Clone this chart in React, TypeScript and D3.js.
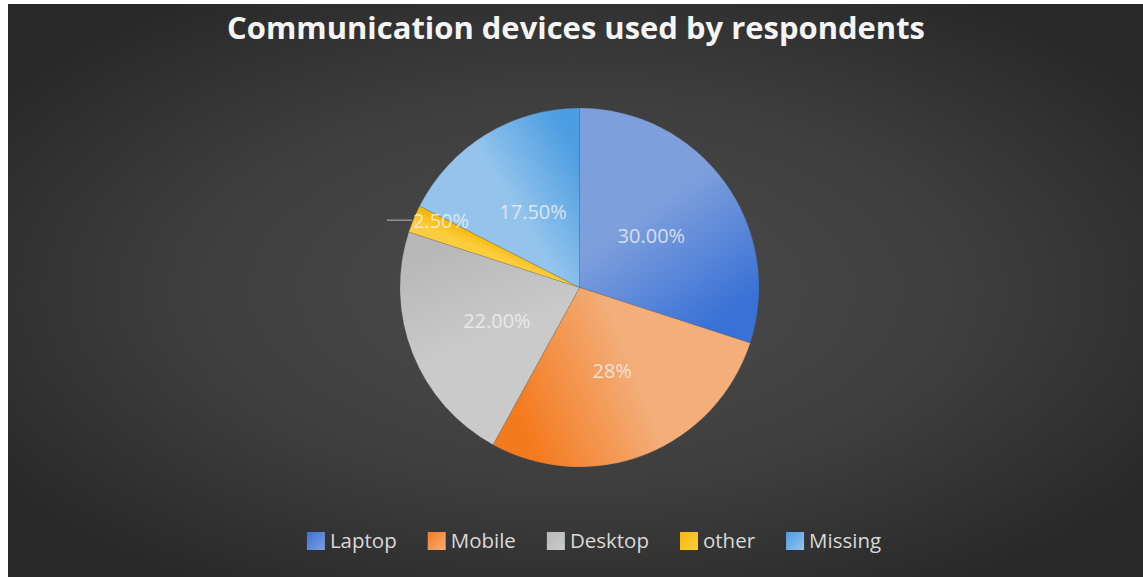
import React from "react";
import * as d3 from "d3";

const categories = ["Laptop", "Mobile", "Desktop", "other", "Missing"];
const values = [30, 28, 22, 2.5, 17.5];
const labels = ["30.00%", "28%", "22.00%", "2.50%", "17.50%"];
const title = "Communication devices used by respondents";

const baseColors = ["#3a71d6", "#f47a1e", "#b8b8b8", "#f4b80c", "#4c9de2"];
const lightColors = ["#7d9fdc", "#f3ae7a", "#cacaca", "#fbcd3c", "#94c4ec"];

const W = 1143;
const H = 577;
const cx = 579.5;
const cy = 287.5;
const R = 179.5;

function measure(text: string, font: string): number {
  const c = document.createElement("canvas").getContext("2d");
  if (!c) return text.length * 10;
  c.font = font;
  return c.measureText(text).width;
}

export default function App() {
  const pie = d3.pie<number>().sort(null).value((d) => d)(values);
  const arc = d3.arc<d3.PieArcDatum<number>>().innerRadius(0).outerRadius(R);
  const labelArc = d3.arc<d3.PieArcDatum<number>>().innerRadius(R * 0.98).outerRadius(R * 0.98);

  const legendFontSize = 20.5;
  const legendFont = `${legendFontSize}px 'Open Sans'`;
  const sq = 18;
  const sqGap = 5;
  const itemGap = 31;
  const widths = categories.map((c) => measure(c, legendFont));
  const total = widths.reduce((a, w) => a + sq + sqGap + w, 0) + itemGap * (categories.length - 1);
  let lx = 594 - total / 2;
  const legendItems = categories.map((c, i) => {
    const x = lx;
    lx += sq + sqGap + widths[i] + itemGap;
    return { c, x, i };
  });

  return (
    <svg width={W} height={H} style={{ position: "absolute", left: 0, top: 0 }}>
      <defs>
        <radialGradient id="bg" cx="0.5" cy="0.5" r="0.62" gradientUnits="objectBoundingBox">
          <stop offset="0" stopColor="#4c4c4c" />
          <stop offset="0.55" stopColor="#3e3e3e" />
          <stop offset="1" stopColor="#282828" />
        </radialGradient>
        {pie.map((p, i) => {
          const a0 = p.startAngle;
          const a1 = p.endAngle;
          const rr = R * 0.75;
          return (
            <linearGradient
              key={i}
              id={`g${i}`}
              gradientUnits="userSpaceOnUse"
              x1={rr * Math.sin(a0)}
              y1={-rr * Math.cos(a0)}
              x2={rr * Math.sin(a1)}
              y2={-rr * Math.cos(a1)}
            >
              <stop offset="0" stopColor={lightColors[i]} />
              <stop offset="0.4" stopColor={lightColors[i]} />
              <stop offset="1" stopColor={baseColors[i]} />
            </linearGradient>
          );
        })}
        {categories.map((c, i) => (
          <linearGradient key={c} id={`lg${i}`} x1="0" y1="0" x2="1" y2="1">
            <stop offset="0" stopColor={baseColors[i]} />
            <stop offset="1" stopColor={lightColors[i]} />
          </linearGradient>
        ))}
      </defs>
      <rect x={8} y={4} width={W - 8} height={H - 4} fill="url(#bg)" />
      <text
        x={576}
        y={39}
        textAnchor="middle"
        fontFamily="'Open Sans', sans-serif"
        fontWeight={700}
        fontSize={31}
        fill="#f4f4f4"
        textLength={698}
        lengthAdjust="spacingAndGlyphs"
      >
        {title}
      </text>
      <g transform={`translate(${cx},${cy})`}>
        {pie.map((p, i) => (
          <path key={i} d={arc(p) || ""} fill={`url(#g${i})`} stroke="#555" strokeOpacity={0.35} strokeWidth={0.6} />
        ))}
        {pie.map((p, i) => {
          const small = p.endAngle - p.startAngle < 0.3;
          if (small) {
            const [ox, oy] = labelArc.centroid(p);
            return (
              <g key={i}>
                <line x1={ox - 30} y1={oy} x2={ox - 5} y2={oy} stroke="#a6a6a6" strokeWidth={1.2} />
                <text
                  x={ox + 24}
                  y={oy}
                  textAnchor="middle"
                  dominantBaseline="central"
                  fontFamily="'Open Sans', sans-serif"
                  fontSize={20}
                  fill="#f2f2f2"
                  fillOpacity={0.8}
                >
                  {labels[i]}
                </text>
              </g>
            );
          }
          const mid = (p.startAngle + p.endAngle) / 2;
          const rl = R * 0.495;
          return (
            <text
              key={i}
              x={rl * Math.sin(mid)}
              y={-rl * Math.cos(mid)}
              textAnchor="middle"
              dominantBaseline="central"
              fontFamily="'Open Sans', sans-serif"
              fontSize={20}
              fill="#f2f2f2"
              fillOpacity={0.8}
            >
              {labels[i]}
            </text>
          );
        })}
      </g>
      <g>
        {legendItems.map(({ c, x, i }) => (
          <g key={c}>
            <rect x={x} y={532} width={sq} height={sq} fill={`url(#lg${i})`} />
            <text
              x={x + sq + sqGap}
              y={548}
              fontFamily="'Open Sans', sans-serif"
              fontSize={legendFontSize}
              fill="#d9d9d9"
            >
              {c}
            </text>
          </g>
        ))}
      </g>
    </svg>
  );
}
